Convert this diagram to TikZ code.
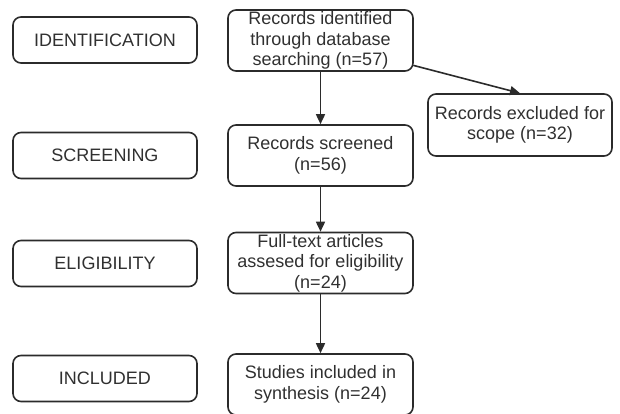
\documentclass[tikz,border=0pt]{standalone}
\usepackage{fontspec}
\setmainfont{Liberation Sans}
\usetikzlibrary{arrows.meta,positioning}
\definecolor{boxline}{HTML}{2B2B2B}
\definecolor{boxtext}{HTML}{303030}
\begin{document}
\begin{tikzpicture}[x=1pt, y=1pt, line join=round, line cap=round,
		font=\fontsize{18}{20.5}\selectfont,
		>={Triangle[length=10pt,width=9pt]},
		stage/.style={draw=boxline, line width=1.6pt, rounded corners=8pt, text=boxtext,
			minimum width=184pt, minimum height=46pt, inner sep=0pt, align=center},
		flowbox/.style={stage, minimum width=185pt, minimum height=61pt},
		link/.style={->, draw=boxline, line width=1.6pt}]
	\useasboundingbox (0,0) rectangle (620,414);
	\def\xl{105} \def\xc{320.5} \def\xr{520}
	% stages on the left
	\node[stage] (ident) at (\xl,374) {IDENTIFICATION};
	\node[stage] (screen) at (\xl,258.5) {SCREENING};
	\node[stage] (elig) at (\xl,150.5) {ELIGIBILITY};
	\node[stage] (incl) at (\xl,35.5) {INCLUDED};
	% flow of records
	\node[flowbox] (found) at (\xc,373.5) {Records identified\\through database\\searching (n=57)};
	\node[flowbox] (screened) at (\xc,258.5) {Records screened\\(n=56)};
	\node[flowbox] (fulltext) at (\xc,151) {Full-text articles\\assesed for eligibility\\(n=24)};
	\node[flowbox] (studies) at (\xc,29.5) {Studies included in\\synthesis (n=24)};
	\node[flowbox, minimum width=184pt, minimum height=62pt] (excluded) at (\xr,289) {Records excluded for\\scope (n=32)};
	\draw[link] (found) -- (screened);
	\draw[link] (screened) -- (fulltext);
	\draw[link] (fulltext) -- (studies);
	\draw[link] (found.-15) -- (excluded.north);
\end{tikzpicture}
\end{document}
